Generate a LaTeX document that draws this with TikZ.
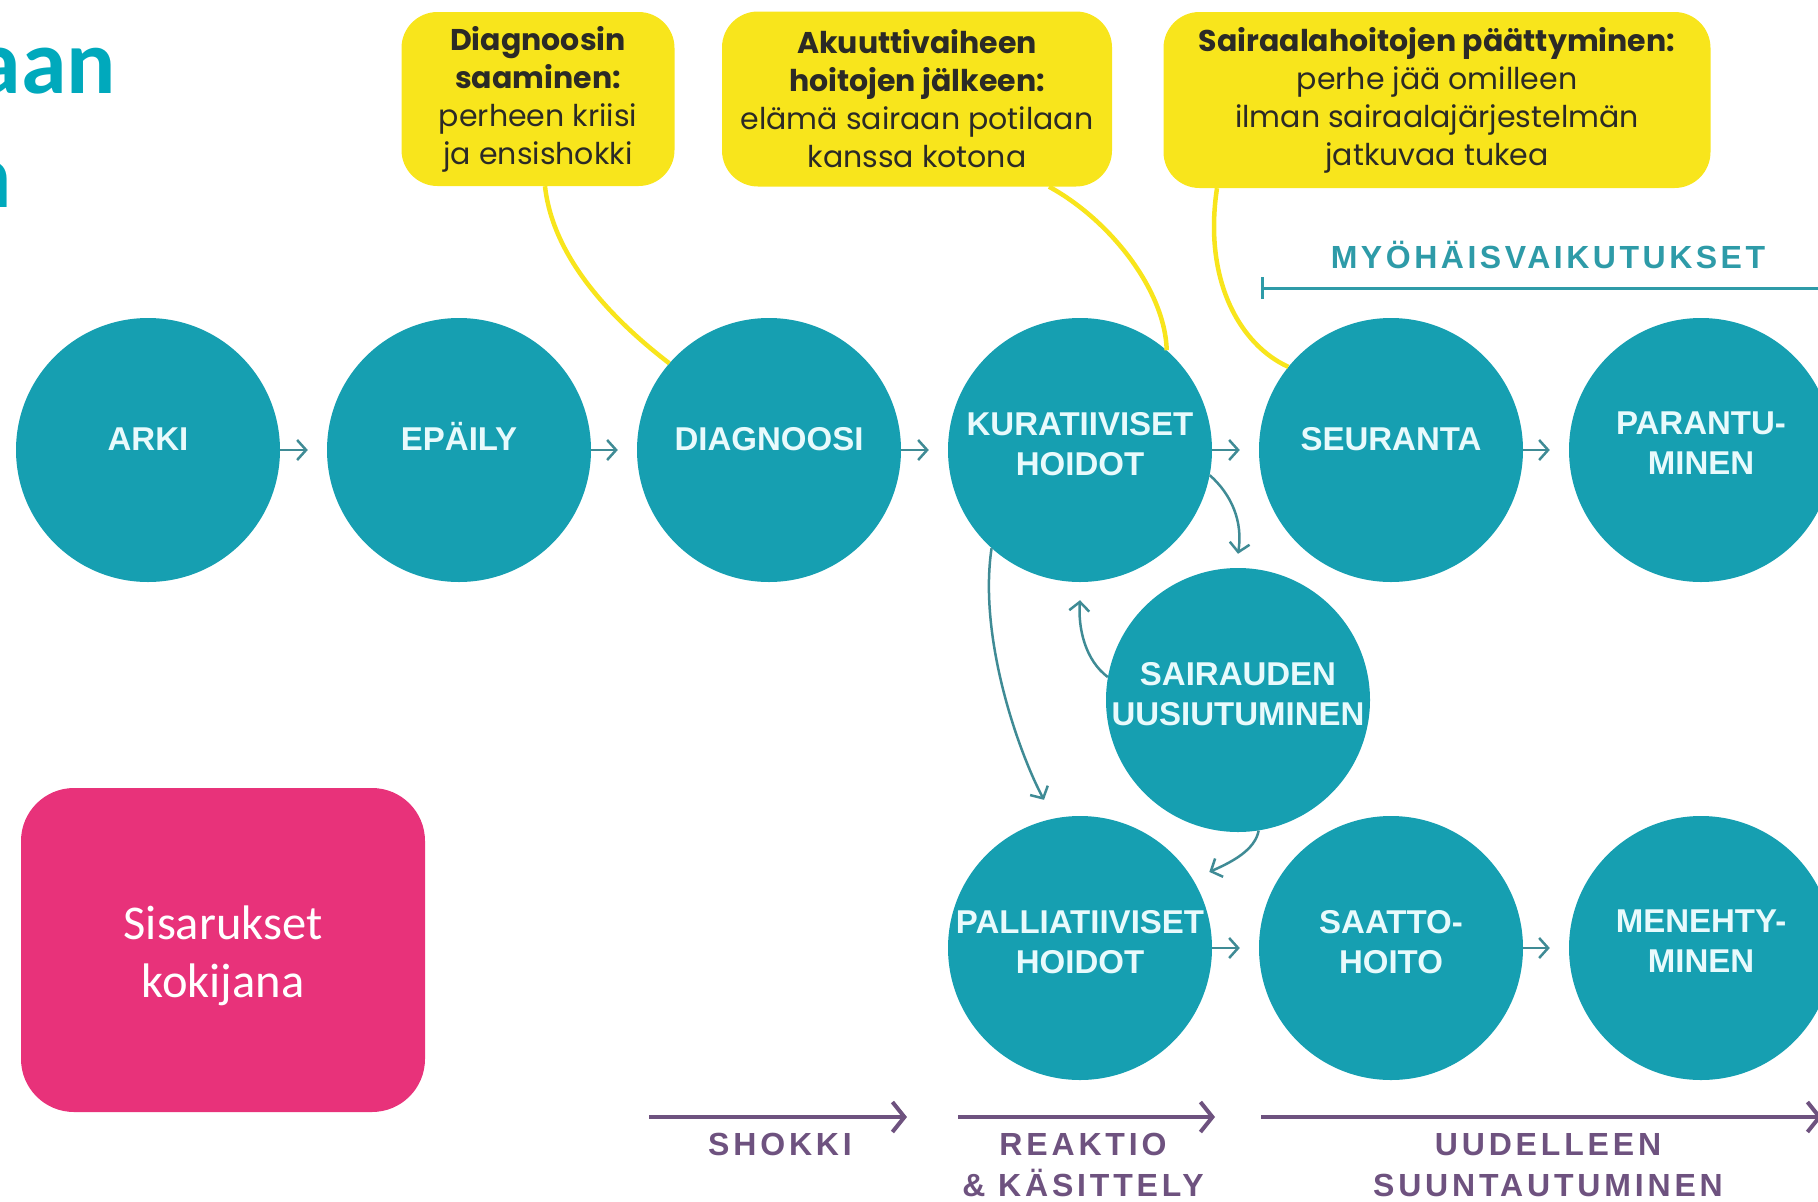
\documentclass[tikz,border=0pt]{standalone}
\usepackage{fontspec}
\setmainfont{Liberation Sans}
\newfontfamily\circfont{Liberation Sans}
\newfontfamily\boxfont{Poppins}
\newfontfamily\labfont{Liberation Sans}[LetterSpace=12]
\newfontfamily\tlabfont{Liberation Sans}[LetterSpace=11]
\newfontfamily\pinkfont{Carlito}
\usetikzlibrary{arrows.meta}
\definecolor{cteal}{HTML}{169FB1}
\definecolor{ctxt}{HTML}{E8FAFC}
\definecolor{cyel}{HTML}{F8E51C}
\definecolor{cdark}{HTML}{2B2A26}
\definecolor{carr}{HTML}{3F8B95}
\definecolor{cpur}{HTML}{6E527F}
\definecolor{ctlab}{HTML}{2E9BA8}
\definecolor{cpink}{HTML}{E8327A}
\definecolor{ctitle}{HTML}{00A9BC}
\begin{document}
\begin{tikzpicture}[x=1pt,y=-1pt,
  circ/.style={circle, fill=cteal, minimum size=264pt, inner sep=0pt},
  ctext/.style={text=ctxt, font=\circfont\bfseries\fontsize{33}{40}\selectfont, align=center, inner sep=0pt},
  ybox/.style={rounded corners=36pt, fill=cyel, inner sep=0pt, align=center, text=cdark,
     font=\boxfont\fontsize{30}{38}\selectfont},
  yline/.style={draw=cyel, line width=4.5pt},
  carrow/.style={draw=carr, line width=2.5pt, -{Straight Barb[length=9pt,width=20pt]}},
  parrow/.style={draw=cpur, line width=4pt, -{Straight Barb[length=12pt,width=30pt]}},
  plabel/.style={text=cpur, font=\labfont\bfseries\fontsize{32}{41}\selectfont, align=center, inner sep=0pt},
  tlabel/.style={text=ctlab, font=\tlabfont\bfseries\fontsize{32}{40}\selectfont, inner sep=0pt},
  titletext/.style={text=ctitle, font=\pinkfont\bfseries\fontsize{92}{110}\selectfont, inner sep=0pt},
  pinkbox/.style={rounded corners=53pt, fill=cpink,
     minimum width=404pt, minimum height=324pt, inner sep=0pt},
  pinktext/.style={text=white, align=center, inner sep=0pt,
     font=\pinkfont\fontsize{48.5}{58}\selectfont}
]
\useasboundingbox (0,0) rectangle (1818,1202);
\begin{scope}
\clip (0,0) rectangle (1818,1202);

% title fragments
\node[titletext, anchor=base east] (t1) at (116,93) {aan};
\node[titletext, anchor=base east] (t2) at (12,207) {n};

% circles
\node[circ] (arki) at (148,450) {};
\node[circ] (epaily) at (459,450) {};
\node[circ] (diag) at (769,450) {};
\node[circ] (kur) at (1080,450) {};
\node[circ] (seur) at (1391,450) {};
\node[circ] (par) at (1701,450) {};
\node[circ] (sair) at (1238,700) {};
\node[circ] (pall) at (1080,948) {};
\node[circ] (saat) at (1391,948) {};
\node[circ] (men) at (1701,948) {};

% yellow boxes
\node[ybox, minimum width=273pt, minimum height=174pt] (b1) at (538,99)
  {\textbf{Diagnoosin}\\\textbf{saaminen:}\\perheen kriisi\\ja ensishokki};
\node[ybox, minimum width=390pt, minimum height=175pt] (b2) at (917,99)
  {\textbf{Akuuttivaiheen}\\\textbf{hoitojen jälkeen:}\\elämä sairaan potilaan\\kanssa kotona};
\node[ybox, minimum width=547pt, minimum height=176pt] (b3) at (1437,100)
  {\textbf{Sairaalahoitojen päättyminen:}\\perhe jää omilleen\\ilman sairaalajärjestelmän\\jatkuvaa tukea};

% yellow connectors
\draw[yline] ([xshift=7pt]b1.south) .. controls (552,250) and (600,310) .. (diag.139);
\draw[yline] ([xshift=132pt]b2.south) .. controls (1110,220) and (1165,290) .. (kur.49);
\draw[yline] ([xshift=-220pt]b3.south) .. controls (1203,280) and (1240,345) .. (seur.141);

% circle texts
\node[ctext, anchor=base] at (arki.center) {ARKI};
\node[ctext, anchor=base] at (epaily.center) {EPÄILY};
\node[ctext, anchor=base] at (diag.center) {DIAGNOOSI};
\node[ctext, anchor=north] at ([yshift=38pt]kur.center) {KURATIIVISET\\HOIDOT};
\node[ctext, anchor=base] at (seur.center) {SEURANTA};
\node[ctext, anchor=north] at ([yshift=38pt]par.center) {PARANTU-\\MINEN};
\node[ctext, anchor=north] at ([yshift=38pt]sair.center) {SAIRAUDEN\\UUSIUTUMINEN};
\node[ctext, anchor=north] at ([yshift=38pt]pall.center) {PALLIATIIVISET\\HOIDOT};
\node[ctext, anchor=north] at ([yshift=38pt]saat.center) {SAATTO-\\HOITO};
\node[ctext, anchor=north] at ([yshift=38pt]men.center) {MENEHTY-\\MINEN};

% straight arrows
\draw[carrow, shorten >=19pt] (arki) -- (epaily);
\draw[carrow, shorten >=19pt] (epaily) -- (diag);
\draw[carrow, shorten >=19pt] (diag) -- (kur);
\draw[carrow, shorten >=19pt] (kur) -- (seur);
\draw[carrow, shorten >=19pt] (seur) -- (par);
\draw[carrow, shorten >=19pt] (pall) -- (saat);
\draw[carrow, shorten >=19pt] (saat) -- (men);

% curved arrows
\draw[carrow] (kur.-11) .. controls (1232,495) and (1243,522) .. ([yshift=14pt]sair.north);
\draw[carrow] (sair.170) .. controls (1085,660) and (1078,628) .. ([yshift=-18pt]kur.south);
\draw[carrow] (kur.-132) .. controls (978,640) and (1020,755) .. ([xshift=-36pt,yshift=16pt]pall.north);
\draw[carrow] (sair.-81) .. controls (1255,850) and (1232,862) .. ([xshift=16pt,yshift=8pt]pall.31);

% late effects
\node[tlabel, anchor=base] (myo) at (1548,268) {MYÖHÄISVAIKUTUKSET};
\coordinate (myoL) at (1261,288);
\coordinate (myoR) at (1830,288);
\draw[draw=ctlab, line width=3pt, {Bar[width=22pt]}-] (myoL) -- (myoR);

% bottom phases
\coordinate (s1) at (649,1117); \coordinate (s2) at (907,1117);
\coordinate (r1) at (958,1117); \coordinate (r2) at (1215,1117);
\coordinate (u1) at (1261,1117); \coordinate (u2) at (1822,1117);
\draw[parrow] (s1) -- (s2);
\draw[parrow] (r1) -- (r2);
\draw[parrow] (u1) -- (u2);
\node[plabel, anchor=north] (shokki) at (780,1133) {SHOKKI};
\node[plabel, anchor=north] (reak) at (1083,1133) {REAKTIO\\\& KÄSITTELY};
\node[plabel, anchor=north] (uud) at (1548,1133) {UUDELLEEN\\SUUNTAUTUMINEN};

% pink box
\node[pinkbox] (pink) at (223,950) {};
\node[pinktext] (pinkt) at ([yshift=-6pt]pink.center) {Sisarukset\\kokijana};
\end{scope}
\end{tikzpicture}
\end{document}
